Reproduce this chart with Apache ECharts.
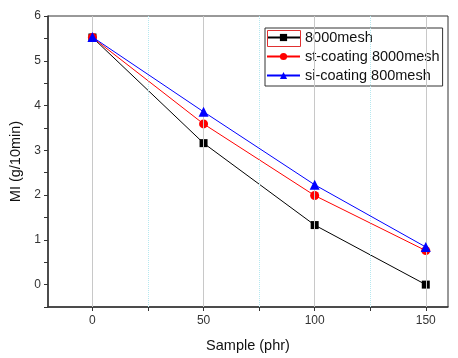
<!DOCTYPE html>
<html><head><meta charset="utf-8">
<script src="https://cdn.jsdelivr.net/npm/echarts@6/dist/echarts.min.js"></script>
<style>html,body{margin:0;padding:0;background:#fff}#c{width:458px;height:358px}</style>
</head><body><div id="c"></div>
<script>
const samples = [0, 50, 100, 150];
const names = ['8000mesh', 'st-coating 8000mesh', 'si-coating 800mesh'];
const mesh8000 = [5.52, 3.16, 1.33, 0.0];
const stCoating = [5.52, 3.59, 1.99, 0.76];
const siCoating = [5.53, 3.86, 2.23, 0.84];
const xLabelValues = [0, 50, 100, 150];
const xTickValues = [0, 25, 50, 75, 100, 125, 150];
const majorGrid = [0, 50, 100, 150];
const minorGrid = [25, 75, 125];

const pairs = ys => samples.map((x, i) => [x, ys[i]]);
const font = 'Liberation Sans, Arial, sans-serif';
const chart = echarts.init(document.getElementById('c'));
chart.setOption({
  animation: false,
  grid: {left: 48, top: 16, right: 10, bottom: 50, show: true, borderColor: '#333', borderWidth: 1},
  legend: {
    data: names, orient: 'vertical', left: 265, top: 28, width: 176,
    itemWidth: 33, itemHeight: 9, itemGap: 4,
    padding: [2, 3, 3, 1],
    borderColor: '#333', borderWidth: 1, backgroundColor: '#fff',
    textStyle: {fontFamily: font, fontSize: 14.5, color: '#111', lineHeight: 14}
  },
  xAxis: {
    type: 'value', min: -20, max: 160,
    name: 'Sample (phr)', nameLocation: 'middle', nameGap: 31,
    nameTextStyle: {fontFamily: font, fontSize: 14.5, color: '#111'},
    axisLine: {onZero: false, lineStyle: {color: '#333', width: 1.5}},
    axisTick: {show: true, inside: false, length: 4, customValues: xTickValues, lineStyle: {color: '#333'}},
    axisLabel: {customValues: xLabelValues, fontFamily: font, fontSize: 12, color: '#333', margin: 8},
    splitLine: {show: false}
  },
  yAxis: {
    type: 'value', min: -0.5, max: 6, interval: 0.5,
    name: 'MI (g/10min)', nameLocation: 'middle', nameGap: 24,
    nameTextStyle: {fontFamily: font, fontSize: 14.5, color: '#111'},
    axisLine: {show: true, onZero: false, lineStyle: {color: '#333', width: 1.5}},
    axisTick: {show: true, inside: false, length: 4, lineStyle: {color: '#333'}},
    axisLabel: {fontFamily: font, fontSize: 12, color: '#333', margin: 7,
      formatter: v => Number.isInteger(v) ? String(v) : ''},
    splitLine: {show: false}
  },
  graphic: [{type: 'rect', left: 265, top: 28, shape: {width: 33, height: 16}, style: {fill: 'none', stroke: '#e03030', lineWidth: 1}, z: 100}],
  series: [
    {type: 'line', name: 'grid', data: [], z: 1, silent: true,
      markLine: {silent: true, symbol: 'none', label: {show: false},
        data: majorGrid.map(v => ({xAxis: v, lineStyle: {color: '#c8c8c8', type: 'solid', width: 1}}))
          .concat(minorGrid.map(v => ({xAxis: v, lineStyle: {color: '#b5e8f0', type: 'dotted', width: 1}})))}},
    {type: 'line', name: names[0], data: pairs(mesh8000), symbol: 'rect', symbolSize: 8,
      itemStyle: {color: '#000'}, lineStyle: {color: '#000', width: 1}, z: 3},
    {type: 'line', name: names[1], data: pairs(stCoating), symbol: 'circle', symbolSize: 9,
      itemStyle: {color: '#ff0000'}, lineStyle: {color: '#ff0000', width: 1}, z: 4},
    {type: 'line', name: names[2], data: pairs(siCoating), symbol: 'triangle', symbolSize: 10,
      itemStyle: {color: '#0000ff'}, lineStyle: {color: '#0000ff', width: 1}, z: 5}
  ]
});
</script></body></html>
